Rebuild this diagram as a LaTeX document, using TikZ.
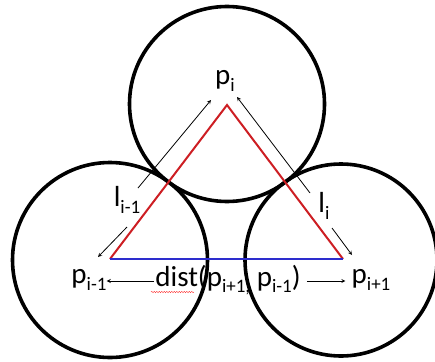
\documentclass[tikz,border=0pt]{standalone}
\usepackage{fontspec}
\setmainfont{Carlito}
\usetikzlibrary{decorations.pathmorphing}
\newcommand{\mysub}[1]{\raisebox{-0.45ex}{\fontsize{19}{19}\selectfont #1}}
\definecolor{tred}{RGB}{205,30,35}
\definecolor{tblue}{RGB}{45,45,205}
\tikzset{
  ring/.style={circle,draw=black,line width=3.6pt,minimum size=195pt,inner sep=0pt},
  lbl/.style={font=\fontsize{29}{29}\selectfont,inner sep=0pt},
  arr/.style={->,>=stealth,line width=0.8pt}
}
\begin{document}
\begin{tikzpicture}[x=1pt,y=-1pt]
\useasboundingbox (0,0) rectangle (435,361);
\node[ring] (ct) at (227,104) {};
\node[ring] (cl) at (110,260) {};
\node[ring,minimum size=192pt] (cr) at (341,260) {};
\coordinate (A) at (227,105);
\coordinate (L) at (110,259);
\coordinate (R) at (343,259);
\draw[tred,line width=2pt,line join=miter] (L) -- (A) -- (R);
\draw[tblue,line width=2pt] (L) -- (R);
\node[lbl] (pi) at (225,81) {p\mysub{i}};
\node[lbl] (pim) at (89,280) {p\mysub{i-1}};
\node[lbl] (pip) at (371,280) {p\mysub{i+1}};
\node[lbl] (dist) at (228,280) {dist(p\mysub{i+1,} p\mysub{i-1})};
\node[lbl] (lim) at (127,200) {l\mysub{i-1}};
\node[lbl] (li) at (324,206) {l\mysub{i}};
\coordinate (a1s) at (138,188); \coordinate (a1e) at (211,100);
\coordinate (a2s) at (127,227); \coordinate (a2e) at (98,257);
\coordinate (a3s) at (310,193); \coordinate (a3e) at (237,97);
\coordinate (a4s) at (332,228); \coordinate (a4e) at (352,255);
\draw[arr] (a1s) -- (a1e);
\draw[arr] (a2s) -- (a2e);
\draw[arr] (a3s) -- (a3e);
\draw[arr] (a4s) -- (a4e);
\draw[arr] (dist.west) ++(-1,1) coordinate (d1) -- (pim.east |- d1);
\draw[arr] (dist.east) ++(6,1) coordinate (d2) -- ([xshift=-6pt]pip.west |- d2);
\draw[red!80,line width=0.4pt,decorate,decoration={snake,amplitude=0.7pt,segment length=2.5pt}] (151,292) -- (194,292);
\end{tikzpicture}
\end{document}
